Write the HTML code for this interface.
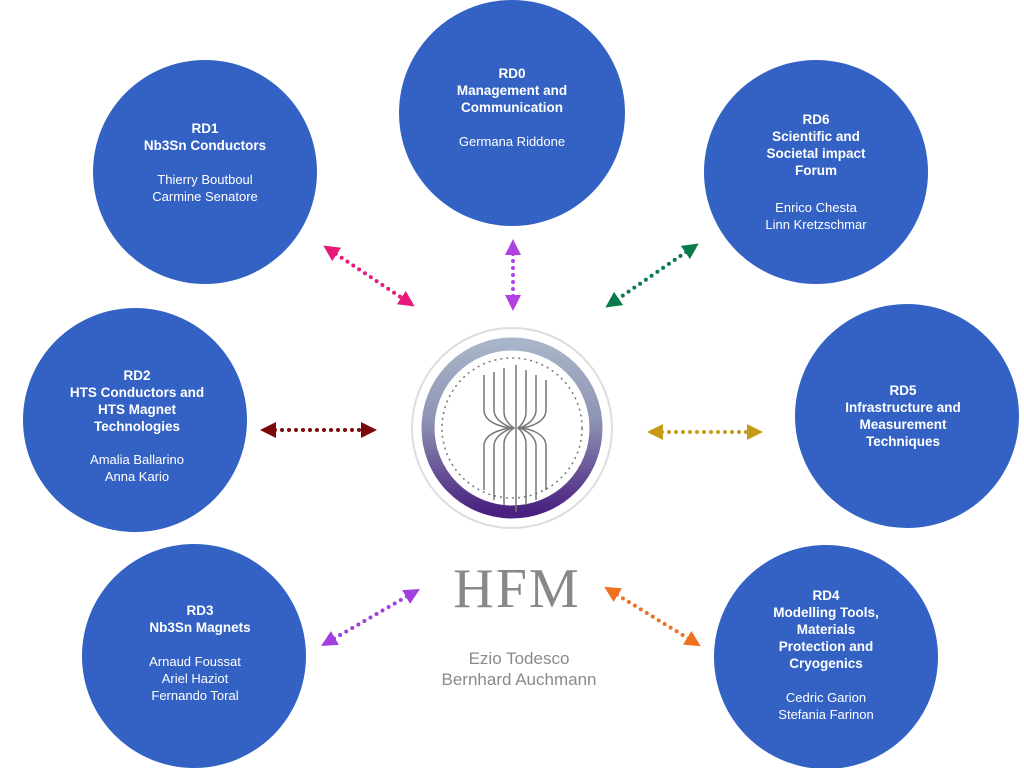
<!DOCTYPE html>
<html><head><meta charset="utf-8"><style>
html,body{margin:0;padding:0;background:#fff;width:1024px;height:768px;overflow:hidden}
svg text{font-family:"Liberation Sans",sans-serif}
</style></head><body>
<svg width="1024" height="768" viewBox="0 0 1024 768" xmlns="http://www.w3.org/2000/svg">
<defs>
<linearGradient id="ring" x1="0" y1="0" x2="0" y2="1">
<stop offset="0" stop-color="#a8b4c8"/><stop offset="0.45" stop-color="#8e94b4"/><stop offset="1" stop-color="#4a2080"/>
</linearGradient>
<marker id="m1" viewBox="0 0 10 10" refX="5" refY="5" markerWidth="4" markerHeight="4" orient="auto-start-reverse"><path d="M0,0 L10,5 L0,10 z" fill="#e8197a"/></marker>
<marker id="m0" viewBox="0 0 10 10" refX="5" refY="5" markerWidth="4" markerHeight="4" orient="auto-start-reverse"><path d="M0,0 L10,5 L0,10 z" fill="#b040e0"/></marker>
<marker id="m6" viewBox="0 0 10 10" refX="5" refY="5" markerWidth="4" markerHeight="4" orient="auto-start-reverse"><path d="M0,0 L10,5 L0,10 z" fill="#0b7a4a"/></marker>
<marker id="m2" viewBox="0 0 10 10" refX="5" refY="5" markerWidth="4" markerHeight="4" orient="auto-start-reverse"><path d="M0,0 L10,5 L0,10 z" fill="#7a0a0a"/></marker>
<marker id="m5" viewBox="0 0 10 10" refX="5" refY="5" markerWidth="4" markerHeight="4" orient="auto-start-reverse"><path d="M0,0 L10,5 L0,10 z" fill="#c79a1a"/></marker>
<marker id="m3" viewBox="0 0 10 10" refX="5" refY="5" markerWidth="4" markerHeight="4" orient="auto-start-reverse"><path d="M0,0 L10,5 L0,10 z" fill="#a040e0"/></marker>
<marker id="m4" viewBox="0 0 10 10" refX="5" refY="5" markerWidth="4" markerHeight="4" orient="auto-start-reverse"><path d="M0,0 L10,5 L0,10 z" fill="#f07020"/></marker>
</defs>
<g fill="#3362c4">
<circle cx="205" cy="172" r="112"/>
<circle cx="512" cy="113" r="113"/>
<circle cx="816" cy="172" r="112"/>
<circle cx="135" cy="420" r="112"/>
<circle cx="907" cy="416" r="112"/>
<circle cx="194" cy="656" r="112"/>
<circle cx="826" cy="657" r="112"/>
</g>
<g stroke-width="4" stroke-linecap="round" stroke-dasharray="0 7" fill="none">
<line x1="330" y1="250" x2="408" y2="302" stroke="#e8197a" marker-start="url(#m1)" marker-end="url(#m1)"/>
<line x1="513" y1="247" x2="513" y2="303" stroke="#b040e0" marker-start="url(#m0)" marker-end="url(#m0)"/>
<line x1="692" y1="248" x2="612" y2="303" stroke="#0b7a4a" marker-start="url(#m6)" marker-end="url(#m6)"/>
<line x1="268" y1="430" x2="369" y2="430" stroke="#7a0a0a" marker-start="url(#m2)" marker-end="url(#m2)"/>
<line x1="655" y1="432" x2="755" y2="432" stroke="#c79a1a" marker-start="url(#m5)" marker-end="url(#m5)"/>
<line x1="328" y1="642" x2="413" y2="593" stroke="#a040e0" marker-start="url(#m3)" marker-end="url(#m3)"/>
<line x1="611" y1="591" x2="694" y2="642" stroke="#f07020" marker-start="url(#m4)" marker-end="url(#m4)"/>
</g>
<!-- logo -->
<circle cx="512" cy="428" r="100" fill="#fff" stroke="#ddd" stroke-width="2"/>
<circle cx="512" cy="428" r="84" fill="none" stroke="url(#ring)" stroke-width="13"/>
<circle cx="512" cy="428" r="70" fill="none" stroke="#777" stroke-width="1.5" stroke-dasharray="2 4"/>
<g stroke="#777" stroke-width="1.5" fill="none">
<line x1="516" y1="365" x2="516" y2="512"/>
<path d="M484,375 V410 C484,425 510,428 510,428 C510,428 484,431 484,446 V490"/>
<path d="M494,372 V410 C494,422 512,428 512,428 C512,428 494,434 494,446 V500"/>
<path d="M504,368 V412 C504,422 514,428 514,428 C514,428 504,434 504,444 V505"/>
<path d="M526,370 V412 C526,422 518,428 518,428 C518,428 526,434 526,444 V505"/>
<path d="M536,375 V410 C536,422 520,428 520,428 C520,428 536,434 536,446 V500"/>
<path d="M546,380 V410 C546,425 522,428 522,428 C522,428 546,431 546,446 V490"/>
</g>
<text x="517" y="607" text-anchor="middle" font-family="Liberation Serif,serif" font-size="56" fill="#888" style="font-family:'Liberation Serif',serif" letter-spacing="2">HFM</text>
<g fill="#8a8a8a" font-size="17" text-anchor="middle">
<text x="519" y="664">Ezio Todesco</text>
<text x="519" y="685">Bernhard Auchmann</text>
</g>
<g fill="#fff" font-size="13.5" text-anchor="middle">
<g font-weight="bold">
<text x="205" y="133">RD1</text><text x="205" y="150">Nb3Sn Conductors</text>
<text x="512" y="78">RD0</text><text x="512" y="95">Management and</text><text x="512" y="112">Communication</text>
<text x="816" y="124">RD6</text><text x="816" y="141">Scientific and</text><text x="816" y="158">Societal impact</text><text x="816" y="175">Forum</text>
<text x="137" y="380">RD2</text><text x="137" y="397">HTS Conductors and</text><text x="137" y="414">HTS Magnet</text><text x="137" y="431">Technologies</text>
<text x="903" y="395">RD5</text><text x="903" y="412">Infrastructure and</text><text x="903" y="429">Measurement</text><text x="903" y="446">Techniques</text>
<text x="200" y="615">RD3</text><text x="200" y="632">Nb3Sn Magnets</text>
<text x="826" y="600">RD4</text><text x="826" y="617">Modelling Tools,</text><text x="826" y="634">Materials</text><text x="826" y="651">Protection and</text><text x="826" y="668">Cryogenics</text>
</g>
<g font-size="13">
<text x="205" y="184">Thierry Boutboul</text><text x="205" y="201">Carmine Senatore</text>
<text x="512" y="146">Germana Riddone</text>
<text x="816" y="212">Enrico Chesta</text><text x="816" y="229">Linn Kretzschmar</text>
<text x="137" y="464">Amalia Ballarino</text><text x="137" y="481">Anna Kario</text>
<text x="195" y="666">Arnaud Foussat</text><text x="195" y="683">Ariel Haziot</text><text x="195" y="700">Fernando Toral</text>
<text x="826" y="702">Cedric Garion</text><text x="826" y="719">Stefania Farinon</text>
</g>
</g>
</svg>
</body></html>
